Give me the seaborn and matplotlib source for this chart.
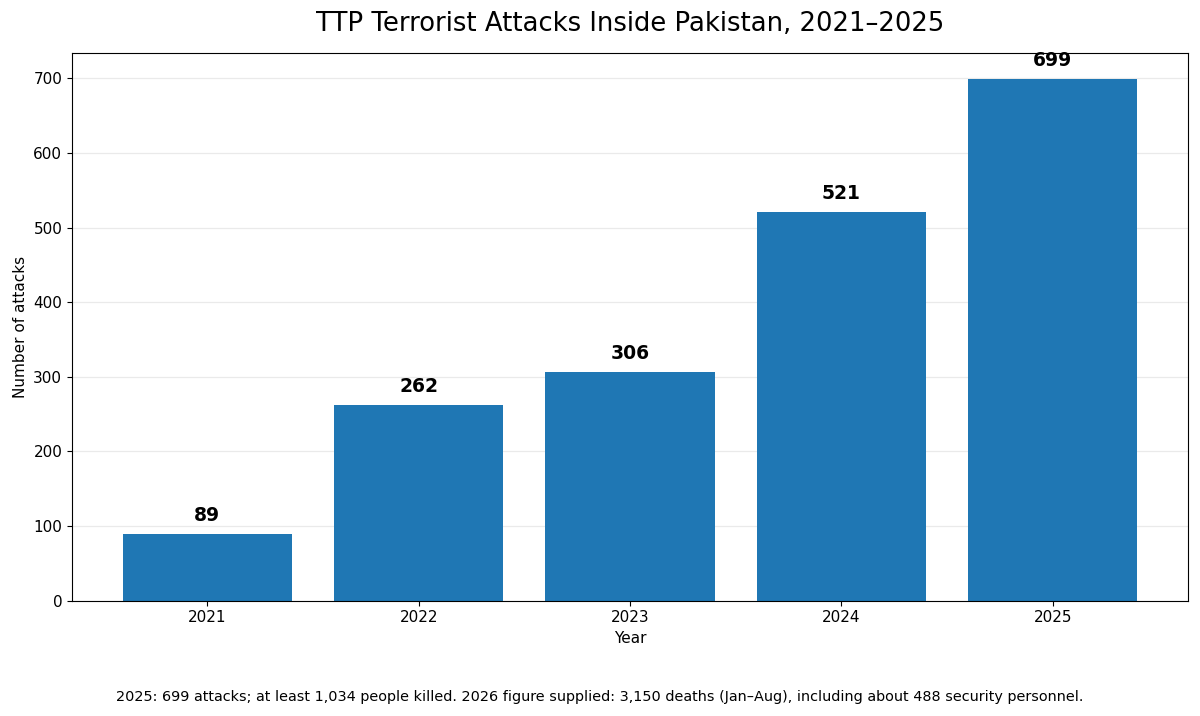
import matplotlib
matplotlib.use("Agg")
import matplotlib.pyplot as plt
import seaborn as sns
import pandas as pd

# Data
years = ["2021", "2022", "2023", "2024", "2025"]
attacks = [89, 262, 306, 521, 699]
note = ("2025: 699 attacks; at least 1,034 people killed. 2026 figure supplied: "
        "3,150 deaths (Jan\u2013Aug), including about 488 security personnel.")

df = pd.DataFrame({"Year": years, "Attacks": attacks})

fig = plt.figure(figsize=(12, 7.16), dpi=100)
ax = fig.add_axes([0.06, 0.161, 0.93, 0.765])

sns.barplot(data=df, x="Year", y="Attacks", color="#1f77b4", saturation=1,
            width=0.8, ax=ax, zorder=2)
ax.set_xlim(-0.64, 4.64)
ax.set_ylim(0, max(attacks) * 1.05)

# value labels
for i, v in enumerate(attacks):
    ax.text(i, v + 12, str(v), ha="center", va="bottom",
            fontsize=13.5, fontweight="bold")

ax.yaxis.grid(True, color="#dddddd", alpha=0.6, linewidth=0.9, zorder=0)
ax.set_axisbelow(True)
ax.tick_params(labelsize=11)
ax.set_xlabel("Year", fontsize=11)
ax.set_ylabel("Number of attacks", fontsize=11)
ax.set_title("TTP Terrorist Attacks Inside Pakistan, 2021\u20132025",
             fontsize=18.6, pad=16)
fig.text(0.5, 0.021, note, ha="center", fontsize=10.4)

fig.savefig("out.png", dpi=100)
